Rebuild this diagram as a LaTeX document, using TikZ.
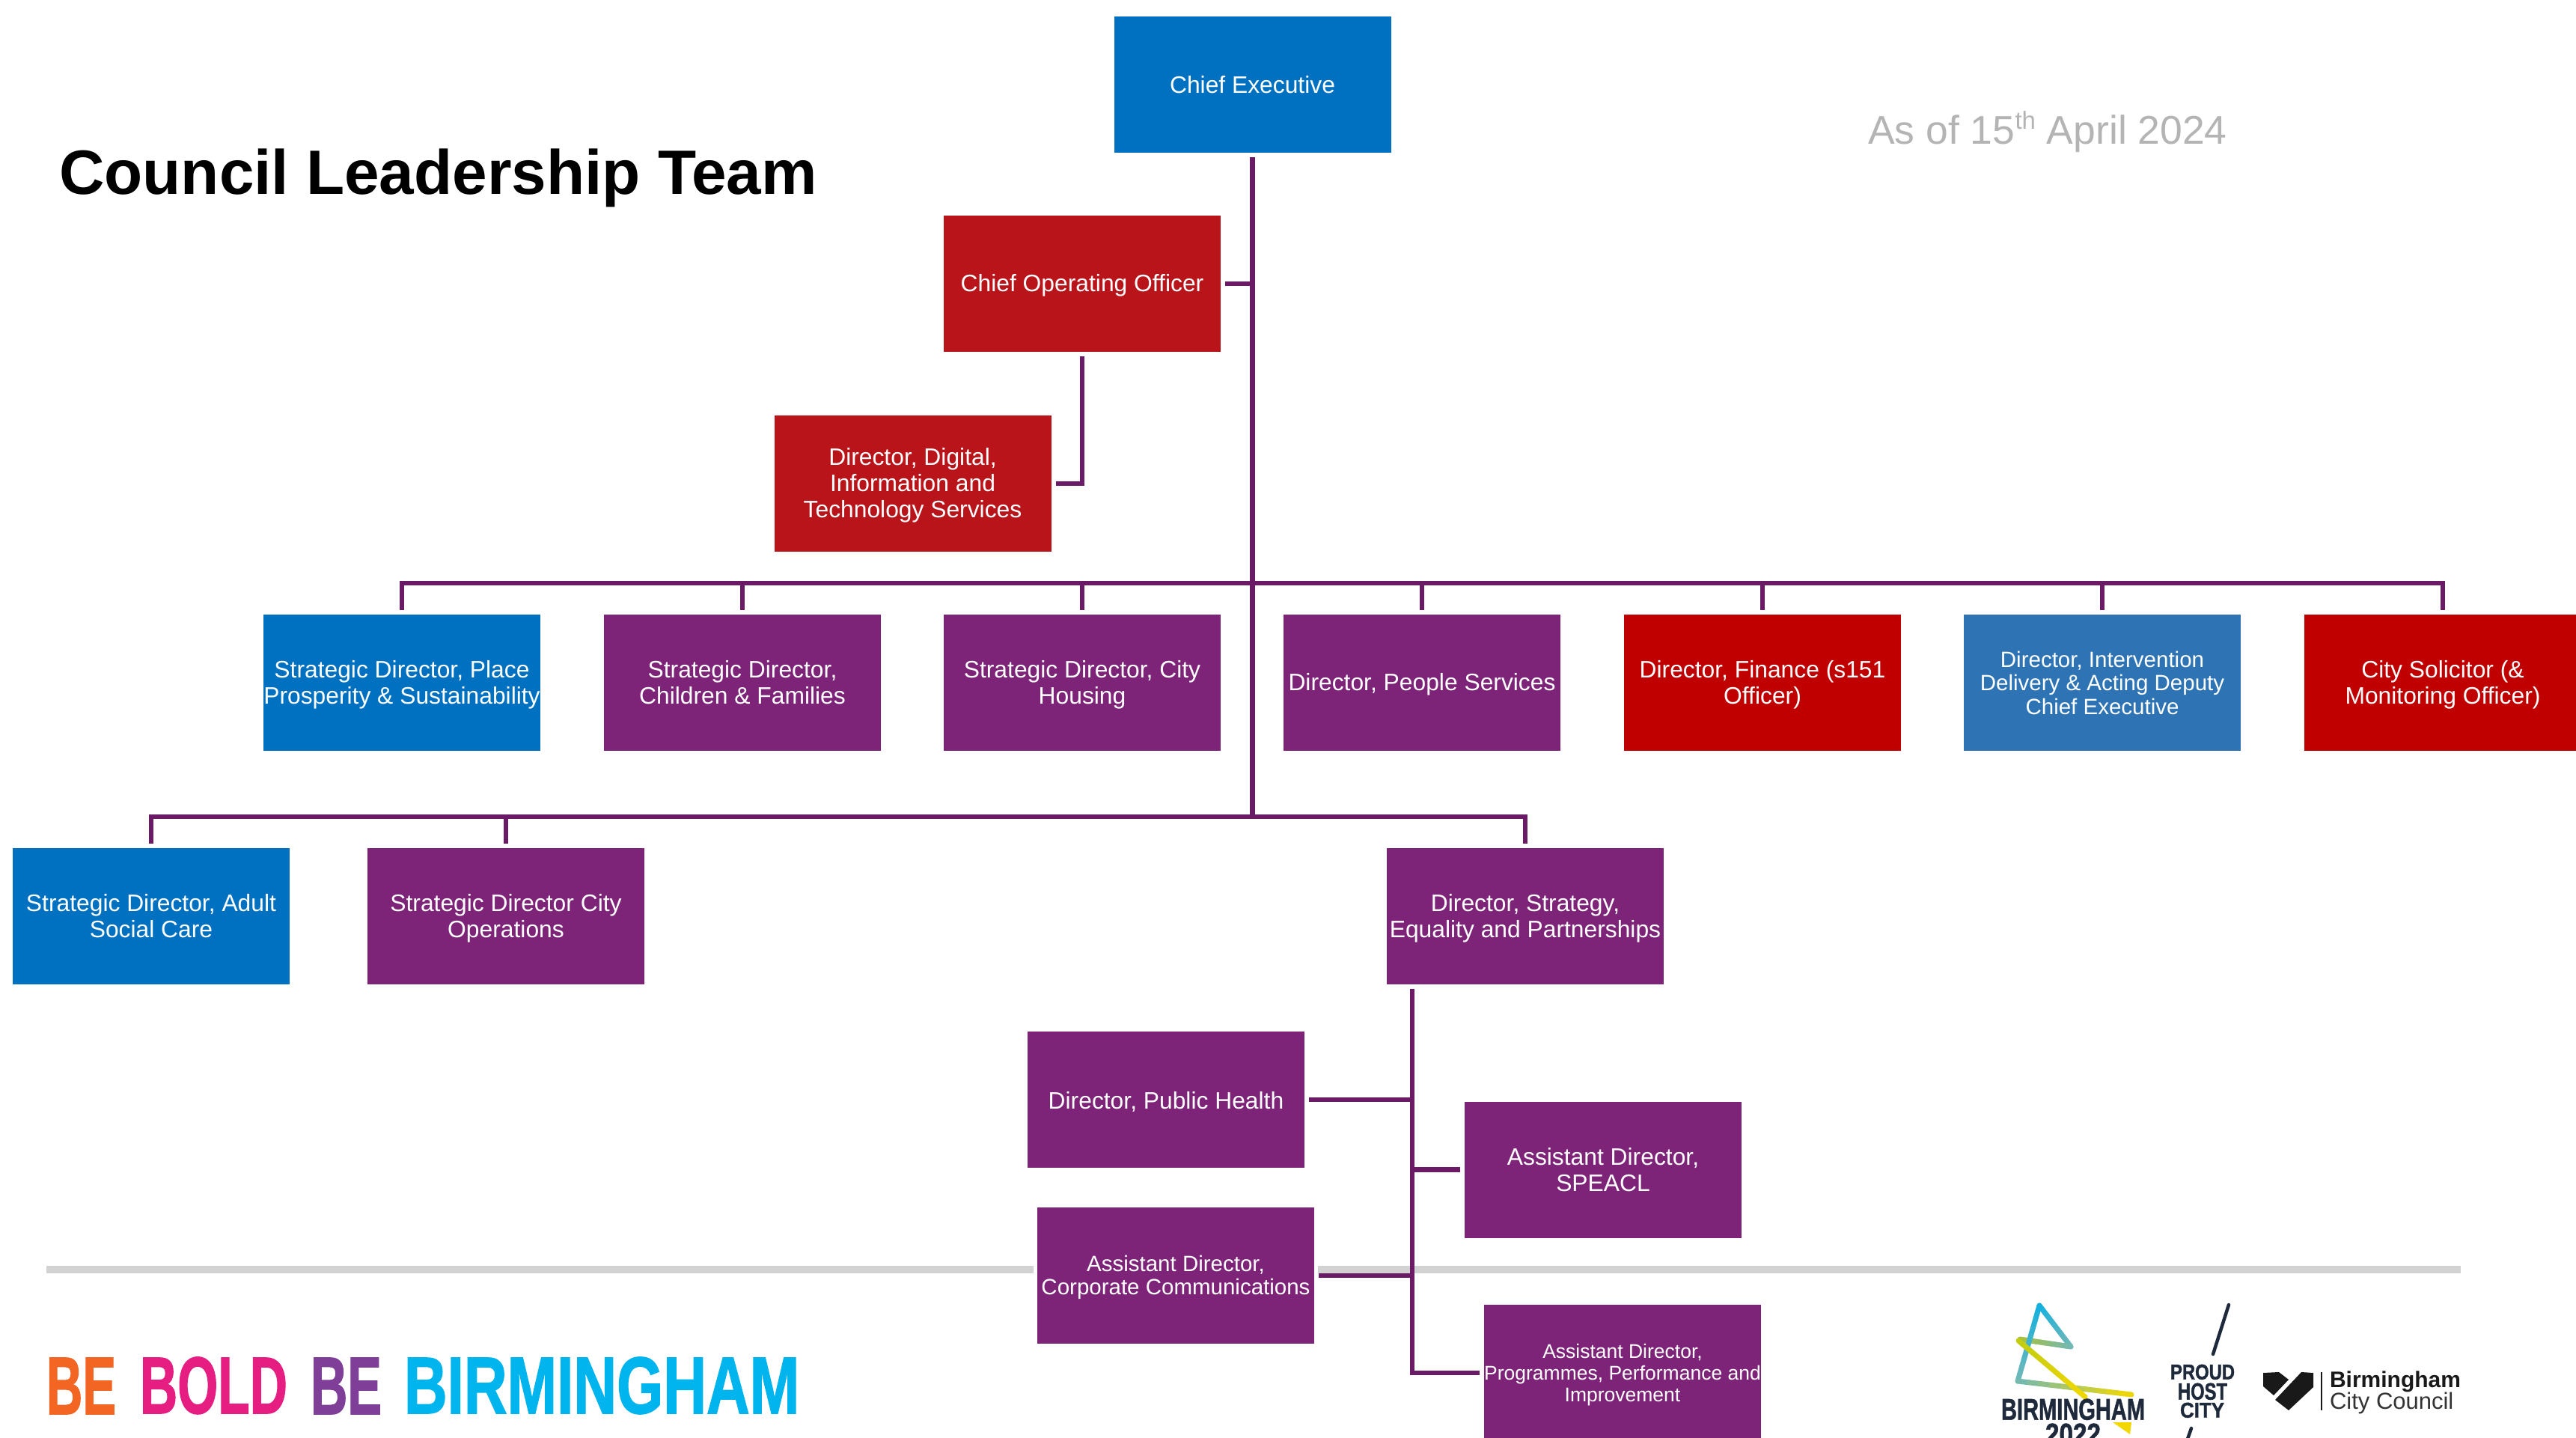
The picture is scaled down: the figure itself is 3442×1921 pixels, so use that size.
\documentclass[tikz,border=0pt]{standalone}
\usepackage{fontspec}
\setmainfont{Liberation Sans}
\newfontfamily\heavy[UprightFont={* Bold},FakeBold=1.5]{Liberation Sans}
\definecolor{cblue}{HTML}{0070C0}
\definecolor{cpurple}{HTML}{7D2479}
\definecolor{credA}{HTML}{B9141A}
\definecolor{credB}{HTML}{C00000}
\definecolor{csteel}{HTML}{2E74B5}
\definecolor{cline}{HTML}{6B1B66}
\definecolor{cgrey}{HTML}{D2D2D2}
\definecolor{cdate}{HTML}{B4B4B4}
\definecolor{lgBlue}{HTML}{10B0E0}
\definecolor{lgTeal}{HTML}{70B8B8}
\definecolor{lgGreen}{HTML}{A8C040}
\definecolor{lgLime}{HTML}{C0CC10}
\definecolor{lgYel}{HTML}{F2D800}
\definecolor{lgNavy}{HTML}{1E2A3C}
\definecolor{sgOrange}{HTML}{F26522}
\definecolor{sgPink}{HTML}{E61E82}
\definecolor{sgViolet}{HTML}{7F3F98}
\definecolor{sgCyan}{HTML}{00B5EE}
\tikzset{
  boxbase/.style={draw=white,line width=5pt,minimum width=375pt,minimum height=187pt,inner sep=0pt,outer sep=3.5pt,align=center,text=white,font=\fontsize{31.8}{35}\selectfont},
  smalla/.style={font=\fontsize{29.5}{31.5}\selectfont},
  smallb/.style={font=\fontsize{26.5}{29}\selectfont},
  conn/.style={draw=cline,line width=6.5pt,line join=miter},
  logotext/.style={inner sep=0pt,outer sep=0pt,anchor=south west},
}
% a zero-width strut on the first line, which sets the text a little lower in its box
\newcommand{\lowr}{\rule{0pt}{.89em}}
\newcommand{\fitword}[4]{\resizebox{#1pt}{#2pt}{\color{#3}\heavy #4}}
\newcommand{\gradseg}[6]{%
  \foreach \gi in {0,10,...,90}{%
    \pgfmathsetmacro{\gj}{\gi+10}%
    \pgfmathsetmacro{\gk}{100-\gi-5}%
    \draw[line width=7pt,line cap=round,color=#5!\gk!#6]
      ($(#1,#2)!\gi/100!(#3,#4)$) -- ($(#1,#2)!\gj/100!(#3,#4)$);
  }}
\usetikzlibrary{calc}
\begin{document}
\begin{tikzpicture}[x=1pt,y=-1pt]
\clip (0,0) rectangle (3442,1921);
\fill[white] (0,0) rectangle (3442,1921);
% rule
\fill[cgrey] (62,1691) rectangle (3288,1701);
% title
\node[anchor=base west,inner sep=0pt,font=\bfseries\fontsize{83.7}{90}\selectfont] (title) at (79,259) {Council Leadership Team};
\node[anchor=base west,inner sep=0pt,text=cdate,font=\fontsize{53.5}{55}\selectfont] (date) at (2496,193) {As of 15\raisebox{20pt}{\fontsize{33}{33}\selectfont th} April 2024};
% boxes
\node[boxbase,fill=cblue] (ce) at (1673.5,113) {Chief Executive};
\node[boxbase,fill=credA] (coo) at (1446,379) {\lowr Chief Operating Officer};
\node[boxbase,fill=credA] (ddi) at (1219.5,646) {\lowr Director, Digital,\\Information and\\Technology Services};
\node[boxbase,fill=cblue] (place) at (537,912) {\lowr Strategic Director, Place\\Prosperity \& Sustainability};
\node[boxbase,fill=cpurple] (child) at (992,912) {Strategic Director,\\Children \& Families};
\node[boxbase,fill=cpurple] (house) at (1446,912) {\lowr Strategic Director, City\\Housing};
\node[boxbase,fill=cpurple] (people) at (1900,912) {\lowr Director, People Services};
\node[boxbase,fill=credB] (fin) at (2355,912) {\lowr Director, Finance (s151\\Officer)};
\node[boxbase,fill=csteel,smalla] (interv) at (2809,912) {Director, Intervention\\Delivery \& Acting Deputy\\Chief Executive};
\node[boxbase,fill=credB] (solic) at (3264,912) {\lowr City Solicitor (\&\\Monitoring Officer)};
\node[boxbase,fill=cblue] (adult) at (202,1224) {Strategic Director, Adult\\Social Care};
\node[boxbase,fill=cpurple] (ops) at (676,1224) {\lowr Strategic Director City\\Operations};
\node[boxbase,fill=cpurple] (strat) at (2038,1224) {\lowr Director, Strategy,\\Equality and Partnerships};
\node[boxbase,fill=cpurple] (health) at (1558,1469) {\lowr Director, Public Health};
\node[boxbase,fill=cpurple] (speacl) at (2142,1562.5) {Assistant Director,\\SPEACL};
\node[boxbase,fill=cpurple,smalla] (comms) at (1571,1704) {\lowr Assistant Director,\\Corporate Communications};
\node[boxbase,fill=cpurple,smallb] (prog) at (2168,1834) {\lowr Assistant Director,\\Programmes, Performance and\\Improvement};
% connector coordinates
\coordinate (bus1) at (1673.5,779);
\coordinate (bus2) at (1673.5,1091);
\coordinate (subtop) at (1887,1321);
% connectors
\draw[conn] (ce.south) -- (bus2);
\draw[conn] (coo.east) -- (coo.east -| bus1);
\draw[conn] (coo.south) |- (ddi.east);
\foreach \n in {place,child,house,people,fin,interv,solic}{
  \draw[conn] (\n.north) |- (bus1);
}
\foreach \n in {adult,ops,strat}{
  \draw[conn] (\n.north) |- (bus2);
}
\draw[conn] (subtop) |- (prog.west);
\draw[conn] (health.east) -- (health.east -| subtop);
\draw[conn] (speacl.west) -- (speacl.west -| subtop);
\draw[conn] (comms.east) -- (comms.east -| subtop);
% slogan logo
\node[logotext] (s1) at (62,1889) {\fitword{93}{75}{sgOrange}{BE}};
\node[logotext] (s2) at (187,1889) {\fitword{197}{75}{sgPink}{BOLD}};
\node[logotext] (s3) at (415,1889) {\fitword{95}{75}{sgViolet}{BE}};
\node[logotext] (s4) at (540,1889) {\fitword{528}{75}{sgCyan}{BIRMINGHAM}};
% Birmingham 2022 logo
\gradseg{2725}{1744}{2767}{1799}{lgBlue}{lgTeal}
\gradseg{2767}{1799}{2699}{1789}{lgTeal}{lgGreen}
\gradseg{2725}{1744}{2696}{1845}{lgBlue}{lgTeal}
\gradseg{2696}{1845}{2848}{1863}{lgTeal}{lgYel}
\gradseg{2697}{1791}{2786}{1866}{lgLime}{lgYel}
\node[logotext] (b22a) at (2674,1897) {\fitword{192}{28}{lgNavy}{BIRMINGHAM}};
\node[logotext] (b22b) at (2733,1930) {\fitword{74}{28}{lgNavy}{2022}};
\fill[lgYel] (2823,1900) -- (2848,1900) -- (2846,1916) -- cycle;
% proud host city
\draw[lgNavy,line width=4.5pt,line cap=round] (2978,1743) -- (2957,1809);
\draw[lgNavy,line width=4.5pt,line cap=round] (2928,1908) -- (2922,1925);
\node[logotext] (ph1) at (2900,1843) {\fitword{86}{20}{lgNavy}{PROUD}};
\node[logotext] (ph2) at (2910,1870) {\fitword{66}{22}{lgNavy}{HOST}};
\node[logotext] (ph3) at (2913,1894) {\fitword{59}{20}{lgNavy}{CITY}};
% council logo
\fill[black!90] (3024,1834) -- (3045,1833) -- (3058,1843) -- (3038,1864) -- (3024,1852) -- cycle;
\fill[black!90] (3075,1833) -- (3091,1834) -- (3091,1853) -- (3058,1884) -- (3040,1870) -- cycle;
\draw[black!90,line width=1.5pt] (3102,1833) -- (3102,1884);
\node[logotext,anchor=west,text=black!90,font=\bfseries\fontsize{30}{30}\selectfont] (bcc1) at (3113,1846) {Birmingham};
\node[logotext,anchor=west,text=black!80,font=\fontsize{31}{31}\selectfont] (bcc2) at (3113,1874) {City Council};
\end{tikzpicture}
\end{document}
